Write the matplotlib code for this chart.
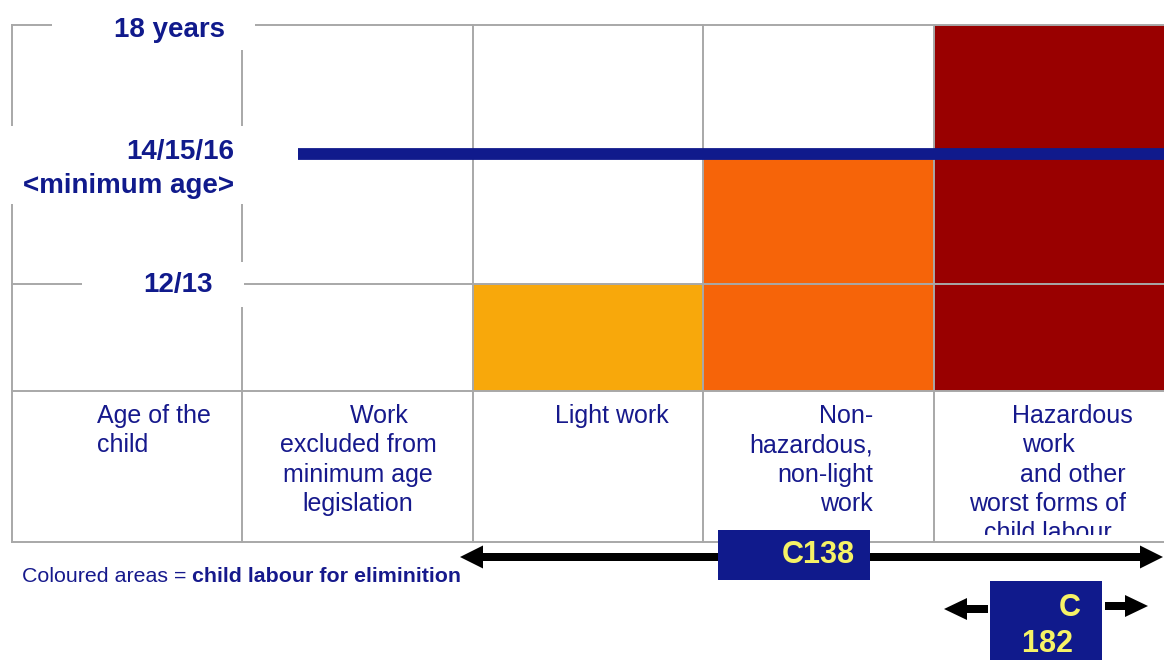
import matplotlib.pyplot as plt
from matplotlib.patches import Rectangle, Polygon

plt.rcParams['font.family'] = ['Liberation Sans', 'DejaVu Sans']

# ---- data -------------------------------------------------------------
age_labels = ['18 years', '14/15/16\n<minimum age>', '12/13']
work_types = ['Age of the\nchild',
              '      Work\nexcluded from\nminimum age\nlegislation',
              'Light work',
              'Non-\nhazardous,\nnon-light\nwork',
              '       Hazardous\nwork\n       and other\nworst forms of\nchild labour']
# age bands (top -> bottom): minimum age..18, 12/13..minimum age, below 12/13
# 1 = child labour for elimination (coloured), 0 = allowed
child_labour = [[0, 0, 0],
                [0, 0, 0],
                [0, 0, 1],
                [0, 1, 1],
                [1, 1, 1]]
cell_colors = [None, None, '#f8a80b', '#f66409', '#990000']
conventions = ['C138', 'C\n182 ']
footnote_plain = 'Coloured areas = '
footnote_bold = 'child labour for eliminition'

# ---- layout (pixels) --------------------------------------------------
navy = '#101a8c'
txt_blue = '#16198c'
yellow = '#f6f266'
grid = '#a8a8a8'
col_x = [12, 242, 473, 703, 934, 1164]
row_y = [25, 155, 284, 391]
table_bottom = 542

fig = plt.figure(figsize=(11.64, 6.6), dpi=100)
ax = fig.add_axes([0, 0, 1, 1])
ax.set_xlim(0, 1164)
ax.set_ylim(660, 0)
ax.axis('off')

# coloured cells
for c, flags in enumerate(child_labour):
    for r, f in enumerate(flags):
        if f:
            ax.add_patch(Rectangle((col_x[c], row_y[r]), col_x[c + 1] - col_x[c],
                                   row_y[r + 1] - row_y[r], color=cell_colors[c], lw=0, zorder=1))

# grid lines
lw = 1.4
for x in col_x[:-1]:
    ax.plot([x, x], [row_y[0], table_bottom], color=grid, lw=lw, zorder=2)
for y in [row_y[0], row_y[2], row_y[3], table_bottom]:
    ax.plot([col_x[0], col_x[-1]], [y, y], color=grid, lw=lw, zorder=2)

# minimum age line
ax.plot([298, 1164], [154, 154], color=navy, lw=8.5, solid_capstyle='butt', zorder=3)

# age labels with white boxes covering the grid
boxes = [(52, 0, 203, 50), (0, 126, 243, 78), (82, 262, 161.5, 45)]
for (bx, by, bw, bh) in boxes:
    ax.add_patch(Rectangle((bx, by), bw, bh, color='white', lw=0, zorder=4))
ax.text(169, 30, age_labels[0], ha='center', va='center', fontsize=20,
        fontweight='bold', color=navy, zorder=5)
ax.text(234, 169, age_labels[1], ha='right', va='center', multialignment='right',
        fontsize=20, fontweight='bold', color=navy, linespacing=1.4, zorder=5)
ax.text(178, 285, age_labels[2], ha='center', va='center', fontsize=20,
        fontweight='bold', color=navy, zorder=5)

# column labels (last one is cut by the cell border as in the original)
clip = Rectangle((0, 0), 1164, 535, transform=ax.transData)
lab_pos = [(97, 'left'), (358, 'center'), (612, 'center'), (873, 'right'), (1048, 'center')]
for lab, (x, al) in zip(work_types, lab_pos):
    t = ax.text(x, 404, lab, ha=al, va='top', multialignment=al, fontsize=18,
                color=txt_blue, linespacing=1.28, zorder=5, clip_on=True)
    t.set_clip_path(clip)

# C138 arrow
def arrow(x0, x1, y, shaft=8):
    ax.plot([x0, x1], [y, y], color='black', lw=shaft * 0.72, solid_capstyle='butt', zorder=3)

def head(tip, y, direction, head_len=23, head_h=23):
    back = tip - direction * head_len
    ax.add_patch(Polygon([(tip, y), (back, y - head_h / 2), (back, y + head_h / 2)],
                         closed=True, color='black', lw=0, zorder=3))

arrow(483, 1142, 557)
head(460, 557, -1)
head(1163, 557, 1)
ax.add_patch(Rectangle((718, 530), 152, 50, color=navy, lw=0, zorder=4))
ax.text(855, 555, conventions[0], ha='right', va='center', fontsize=22,
        fontweight='bold', color=yellow, zorder=5)

# C182 arrows
arrow(966, 988, 609)
head(944, 609, -1, head_h=22)
arrow(1105, 1126, 606)
head(1148, 606, 1, head_h=22)
ax.add_patch(Rectangle((990, 581), 112, 80, color=navy, lw=0, zorder=4))
ax.text(1081, 626, conventions[1], ha='right', va='center', multialignment='right',
        fontsize=22, fontweight='bold', color=yellow, linespacing=1.3, zorder=5)

# footnote
t1 = ax.text(22, 577, footnote_plain, ha='left', va='center', fontsize=15.4, color=txt_blue)
fig.canvas.draw()
bb = t1.get_window_extent()
x_end = ax.transData.inverted().transform((bb.x1, bb.y0))[0]
ax.text(x_end, 577, footnote_bold, ha='left', va='center', fontsize=15.4,
        fontweight='bold', color=txt_blue)

fig.savefig('out.png', dpi=100)
